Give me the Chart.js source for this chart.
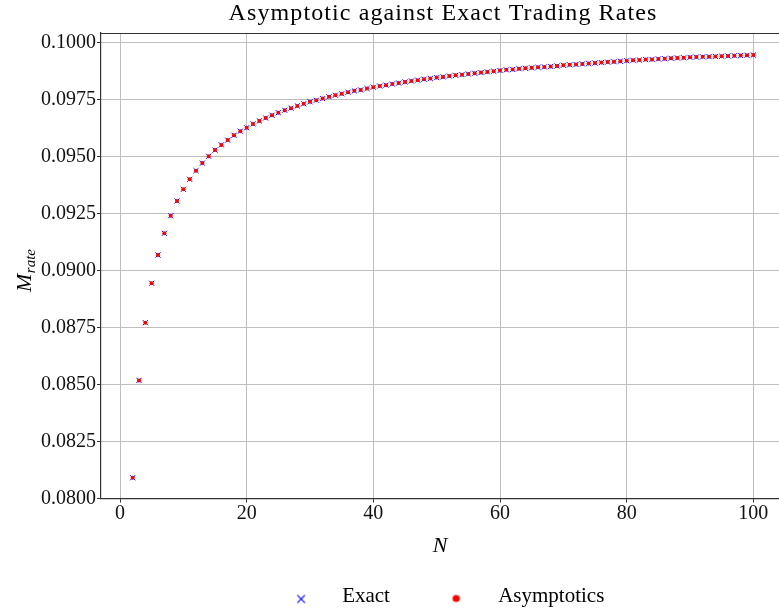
<!DOCTYPE html>
<html>
<head>
<meta charset="utf-8">
<script src="https://cdn.jsdelivr.net/npm/chart.js@4/dist/chart.umd.min.js"></script>
<style>
html,body{margin:0;padding:0;background:#ffffff;}
#wrap{width:779px;height:612px;position:relative;}
</style>
</head>
<body>
<div id="wrap"><canvas id="c" width="779" height="612"></canvas></div>
<script>
// ---------- data ----------
const TITLE = 'Asymptotic against Exact Trading Rates';
const X_LABEL = 'N';
const Y_LABEL_MAIN = 'M';
const Y_LABEL_SUB = 'rate';
const SERIES_NAMES = ['Exact', 'Asymptotics'];
const xTicks = [0, 20, 40, 60, 80, 100];
const yTicks = [0.0800, 0.0825, 0.0850, 0.0875, 0.0900, 0.0925, 0.0950, 0.0975, 0.1000];

const N = [2, 3, 4, 5, 6, 7, 8, 9, 10,
  11, 12, 13, 14, 15, 16, 17, 18, 19, 20,
  21, 22, 23, 24, 25, 26, 27, 28, 29, 30,
  31, 32, 33, 34, 35, 36, 37, 38, 39, 40,
  41, 42, 43, 44, 45, 46, 47, 48, 49, 50,
  51, 52, 53, 54, 55, 56, 57, 58, 59, 60,
  61, 62, 63, 64, 65, 66, 67, 68, 69, 70,
  71, 72, 73, 74, 75, 76, 77, 78, 79, 80,
  81, 82, 83, 84, 85, 86, 87, 88, 89, 90,
  91, 92, 93, 94, 95, 96, 97, 98, 99, 100];

const exact = [0.08091, 0.08518, 0.08771, 0.08944, 0.09068, 0.09163, 0.09240, 0.09305, 0.09356,
  0.09400, 0.09438, 0.09471, 0.09501, 0.09528, 0.09551, 0.09572, 0.09593, 0.09611, 0.09626,
  0.09643, 0.09656, 0.09669, 0.09681, 0.09692, 0.09703, 0.09712, 0.09722, 0.09731, 0.09740,
  0.09747, 0.09754, 0.09762, 0.09769, 0.09775, 0.09782, 0.09788, 0.09792, 0.09798, 0.09804,
  0.09809, 0.09813, 0.09818, 0.09822, 0.09827, 0.09831, 0.09835, 0.09839, 0.09842, 0.09846,
  0.09849, 0.09853, 0.09856, 0.09859, 0.09862, 0.09865, 0.09868, 0.09871, 0.09874, 0.09877,
  0.09880, 0.09882, 0.09885, 0.09887, 0.09889, 0.09891, 0.09893, 0.09895, 0.09897, 0.09900,
  0.09902, 0.09904, 0.09906, 0.09908, 0.09910, 0.09912, 0.09914, 0.09916, 0.09918, 0.09920,
  0.09922, 0.09923, 0.09925, 0.09926, 0.09928, 0.09929, 0.09931, 0.09932, 0.09933, 0.09935,
  0.09936, 0.09937, 0.09938, 0.09939, 0.09940, 0.09941, 0.09942, 0.09943, 0.09944, 0.09945];

const asymptotics = [0.08091, 0.08518, 0.08771, 0.08944, 0.09068, 0.09163, 0.09240, 0.09305, 0.09356,
  0.09400, 0.09438, 0.09471, 0.09501, 0.09528, 0.09551, 0.09572, 0.09593, 0.09611, 0.09626,
  0.09643, 0.09656, 0.09669, 0.09681, 0.09692, 0.09703, 0.09712, 0.09722, 0.09731, 0.09740,
  0.09747, 0.09754, 0.09762, 0.09769, 0.09775, 0.09782, 0.09788, 0.09792, 0.09798, 0.09804,
  0.09809, 0.09813, 0.09818, 0.09822, 0.09827, 0.09831, 0.09835, 0.09839, 0.09842, 0.09846,
  0.09849, 0.09853, 0.09856, 0.09859, 0.09862, 0.09865, 0.09868, 0.09871, 0.09874, 0.09877,
  0.09880, 0.09882, 0.09885, 0.09887, 0.09889, 0.09891, 0.09893, 0.09895, 0.09897, 0.09900,
  0.09902, 0.09904, 0.09906, 0.09908, 0.09910, 0.09912, 0.09914, 0.09916, 0.09918, 0.09920,
  0.09922, 0.09923, 0.09925, 0.09926, 0.09928, 0.09929, 0.09931, 0.09932, 0.09933, 0.09935,
  0.09936, 0.09937, 0.09938, 0.09939, 0.09940, 0.09941, 0.09942, 0.09943, 0.09944, 0.09945];

// ---------- styling / layout ----------
const FONT = "'Liberation Serif', 'Times New Roman', serif";
const BLUE = '#0000ff';
const RED = '#ff0000';
const LEGEND_FS = 21;
const LEGEND_PAD = 5;
const CANVAS_H = 612;
const PLOT_BOTTOM = 498.5;
const LEGEND_TEXT_Y = 596.5;

// legend layout targets (pixels in the picture)
const L_TEXT1 = 341, L_TEXT2 = 497, L_MARK1 = 300, L_MARK2 = 455, L_CENTER = 440;

const mctx = document.createElement('canvas').getContext('2d');
mctx.font = LEGEND_FS + 'px ' + FONT;
const tw1 = mctx.measureText(SERIES_NAMES[0]).width;
const tw2 = mctx.measureText(SERIES_NAMES[1]).width;
const spW = mctx.measureText(' ').width || 5;
const BOX_W = Math.max(10, L_TEXT2 - L_TEXT1 - tw1 - LEGEND_PAD - LEGEND_FS / 2);
const extra = 2 * (L_CENTER - L_TEXT1) - tw1 - tw2 - LEGEND_PAD;
const nSpaces = Math.max(0, Math.round(extra / spW));

function markerImage(kind, dx, dy) {
  const half = Math.ceil(Math.abs(dx)) + 8;
  const c = document.createElement('canvas');
  c.width = half * 2; c.height = 24;
  const g = c.getContext('2d');
  const cx = half + dx, cy = 12 + dy;
  if (kind === 'cross') {
    g.strokeStyle = BLUE; g.lineWidth = 1.1;
    const a = 3.8;
    g.beginPath();
    g.moveTo(cx - a, cy - a); g.lineTo(cx + a, cy + a);
    g.moveTo(cx - a, cy + a); g.lineTo(cx + a, cy - a);
    g.stroke();
  } else {
    g.fillStyle = RED;
    g.beginPath(); g.arc(cx, cy, 3.6, 0, Math.PI * 2); g.fill();
  }
  return c;
}
const off1 = L_MARK1 - (L_TEXT1 - LEGEND_FS / 2 - BOX_W / 2);
const off2 = L_MARK2 - (L_TEXT2 - LEGEND_FS / 2 - BOX_W / 2);
const legendImgs = [markerImage('cross', off1, 2.5), markerImage('dot', off2, 2)];

function zeroPad(s) { s.paddingLeft = 0; s.paddingRight = 0; s.paddingTop = 0; s.paddingBottom = 0; }

const extrasPlugin = {
  id: 'extras',
  afterLayout(chart) {
    const lg = chart.legend;
    if (lg) {
      const cur = lg.top + LEGEND_PAD + LEGEND_FS / 2;
      const d = LEGEND_TEXT_Y - cur;
      lg.top += d; lg.bottom += d;
    }
  },
  afterDraw(chart) {
    const ctx = chart.ctx;
    const a = chart.chartArea;
    ctx.save();
    ctx.strokeStyle = '#333333';
    ctx.lineWidth = 1.2;
    ctx.beginPath();
    ctx.moveTo(a.left, Math.round(a.top) + 0.5);
    ctx.lineTo(a.right, Math.round(a.top) + 0.5);
    ctx.stroke();
    ctx.fillStyle = '#000000';
    ctx.font = '24px ' + FONT;
    try { ctx.letterSpacing = '1.1px'; } catch (e) {}
    ctx.textAlign = 'center';
    ctx.textBaseline = 'alphabetic';
    ctx.fillText(TITLE, 443, 20);
    try { ctx.letterSpacing = '0px'; } catch (e) {}
    ctx.restore();
    ctx.save();
    ctx.translate(31, 292);
    ctx.rotate(-Math.PI / 2);
    ctx.fillStyle = '#000000';
    ctx.textAlign = 'left';
    ctx.textBaseline = 'alphabetic';
    ctx.font = 'italic 22px ' + FONT;
    ctx.fillText(Y_LABEL_MAIN, 0, 0);
    const mw = ctx.measureText(Y_LABEL_MAIN).width;
    ctx.font = 'italic 15px ' + FONT;
    ctx.fillText(Y_LABEL_SUB, mw + 0.5, 3.5);
    ctx.restore();
  }
};

const chart = new Chart(document.getElementById('c'), {
  type: 'scatter',
  data: {
    datasets: [
      {
        label: SERIES_NAMES[0],
        data: N.map((n, i) => ({x: n, y: exact[i]})),
        pointStyle: 'crossRot',
        radius: 3.6,
        hoverRadius: 3.6,
        borderColor: BLUE,
        backgroundColor: BLUE,
        borderWidth: 1,
        order: 2
      },
      {
        label: SERIES_NAMES[1],
        data: N.map((n, i) => ({x: n, y: asymptotics[i]})),
        pointStyle: 'circle',
        radius: 2,
        hoverRadius: 2,
        borderWidth: 0,
        borderColor: RED,
        backgroundColor: RED,
        order: 1
      }
    ]
  },
  options: {
    responsive: false,
    animation: false,
    devicePixelRatio: 1,
    events: [],
    layout: {autoPadding: false, padding: {top: 33, left: 0, right: 0, bottom: 0}},
    plugins: {
      title: {display: false},
      tooltip: {enabled: false},
      legend: {
        display: true,
        position: 'bottom',
        fullSize: false,
        align: 'center',
        labels: {
          usePointStyle: true,
          pointStyleWidth: BOX_W,
          boxHeight: LEGEND_FS,
          padding: LEGEND_PAD,
          color: '#000000',
          font: {family: FONT, size: LEGEND_FS, lineHeight: 1},
          generateLabels(ch) {
            return ch.data.datasets.map((ds, i) => ({
              text: i === 1 ? ds.label + ' '.repeat(nSpaces) : ds.label,
              pointStyle: legendImgs[i],
              fillStyle: 'rgba(0,0,0,0)',
              strokeStyle: 'rgba(0,0,0,0)',
              lineWidth: 0,
              fontColor: '#000000',
              hidden: false,
              datasetIndex: i
            }));
          }
        }
      }
    },
    scales: {
      x: {
        type: 'linear',
        min: -3.0,
        max: 104.05,
        afterFit(s) {
          const lh = (s.chart.legend && s.chart.legend.height) ? s.chart.legend.height : 36;
          s.height = CANVAS_H - lh - PLOT_BOTTOM;
          zeroPad(s);
        },
        afterBuildTicks(s) { s.ticks = xTicks.map(v => ({value: v})); },
        grid: {color: '#bdbdbd', lineWidth: 1, drawTicks: true, tickLength: 4, tickColor: '#333333', tickWidth: 1},
        border: {display: true, color: '#333333', width: 1.2},
        ticks: {
          color: '#111111',
          padding: 1,
          maxRotation: 0,
          autoSkip: false,
          font: {family: FONT, size: 20, lineHeight: 1},
          callback: v => String(v)
        },
        title: {
          display: true,
          text: X_LABEL,
          color: '#000000',
          font: {family: FONT, size: 22, style: 'italic', lineHeight: 1.2},
          padding: {top: 0, bottom: 17}
        }
      },
      y: {
        type: 'linear',
        min: 0.0800,
        max: 0.100417,
        afterFit(s) { s.width = 101; zeroPad(s); },
        afterBuildTicks(s) { s.ticks = yTicks.map(v => ({value: v})); },
        grid: {color: '#bdbdbd', lineWidth: 1, drawTicks: true, tickLength: 4, tickColor: '#333333', tickWidth: 1},
        border: {display: true, color: '#333333', width: 1.2},
        ticks: {
          color: '#111111',
          padding: 1,
          autoSkip: false,
          font: {family: FONT, size: 20, lineHeight: 1},
          callback: v => Number(v).toFixed(4)
        }
      }
    }
  },
  plugins: [extrasPlugin]
});
</script>
</body>
</html>
